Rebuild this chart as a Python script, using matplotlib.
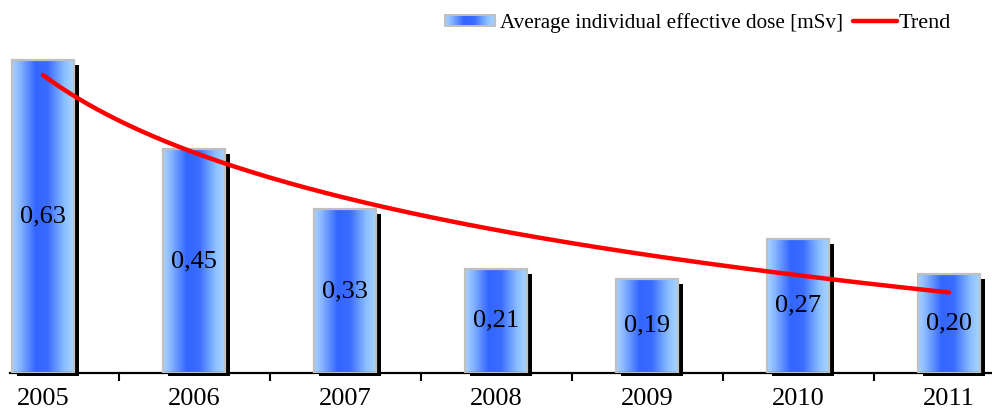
import numpy as np
import matplotlib
matplotlib.use("Agg")
import matplotlib.pyplot as plt
from matplotlib.colors import LinearSegmentedColormap
from matplotlib.patches import Rectangle
from matplotlib.lines import Line2D

# data
years = ['2005', '2006', '2007', '2008', '2009', '2010', '2011']
dose = [0.63, 0.45, 0.33, 0.21, 0.19, 0.27, 0.20]
value_labels = ['0,63', '0,45', '0,33', '0,21', '0,19', '0,27', '0,20']
series_name = 'Average individual effective dose [mSv]'
trend_name = 'Trend'

serif = ['Liberation Serif', 'DejaVu Serif']
plt.rcParams['font.family'] = serif

W, H = 992, 416
fig = plt.figure(figsize=(W / 100, H / 100), dpi=100)
ax = fig.add_axes([10 / W, (H - 373) / H, (W - 10) / W, 373 / H])

pos = np.arange(len(years))
width = 0.41
cmap = LinearSegmentedColormap.from_list(
    'bar', [(0.0, '#a8d2ff'), (0.12, '#8ab8ff'), (0.38, '#3366ff'),
            (0.58, '#3a6cff'), (0.85, '#8cc0ff'), (1.0, '#a8d4ff')])
grad = np.linspace(0, 1, 256).reshape(1, -1)

# black drop shadow (offset right / down by a few pixels)
dx = 5 / 151
dy = 5 / 497
for x, v in zip(pos, dose):
    ax.add_patch(Rectangle((x - width / 2 + dx, -3 / 497), width, v - dy + 3 / 497,
                           facecolor='black', edgecolor='none', zorder=1, clip_on=False))

bars = ax.bar(pos, dose, width, color='none', edgecolor='#c0c0c0', linewidth=1.6, zorder=3)
for b, v in zip(bars, dose):
    x0 = b.get_x()
    im = ax.imshow(grad, extent=[x0, x0 + width, 0, v], aspect='auto', cmap=cmap,
                   interpolation='bicubic', zorder=2)
    im.set_clip_path(b)

for x, v, lab in zip(pos, dose, value_labels):
    ax.text(x, v / 2, lab, ha='center', va='center', fontsize=19, color='black', zorder=5)

# logarithmic trend line fitted to the data
xs = pos + 1
coef = np.polyfit(np.log(xs), dose, 1)
xf = np.linspace(1, len(years), 200)
ax.plot(xf - 1, np.polyval(coef, np.log(xf)), color='#ff0000', lw=3.2, zorder=4,
        solid_capstyle='round')

ax.set_xlim(-33 / 151, (W - 43) / 151)
ax.set_ylim(0, 373 / 497)
ax.set_xticks(pos)
ax.set_xticklabels(years, fontsize=19)
ax.set_xticks(pos[:-1] + 0.5, minor=True)
ax.tick_params(axis='x', which='major', length=0, pad=11)
ax.tick_params(axis='x', which='minor', length=6, width=1.5, direction='out')
ax.set_yticks([])
for s in ['top', 'right', 'left']:
    ax.spines[s].set_visible(False)
ax.spines['bottom'].set_linewidth(1.6)

# legend drawn by hand to match the reference layout
lax = fig.add_axes([445 / W, (H - 26) / H, 50 / W, 11 / H])
lax.imshow(grad, extent=[0, 1, 0, 1], aspect='auto', cmap=cmap, interpolation='bicubic')
lax.set_xticks([])
lax.set_yticks([])
for s in lax.spines.values():
    s.set_color('#c0c0c0')
    s.set_linewidth(1.4)
fig.text(500 / W, (H - 28) / H, series_name, fontsize=15.2, va='baseline', ha='left')
fig.add_artist(Line2D([853 / W, 897 / W], [(H - 21) / H] * 2, color='#ff0000', lw=3.2,
                      solid_capstyle='round'))
fig.text(899 / W, (H - 28) / H, trend_name, fontsize=16, va='baseline', ha='left')

fig.savefig('out.png', dpi=100)
